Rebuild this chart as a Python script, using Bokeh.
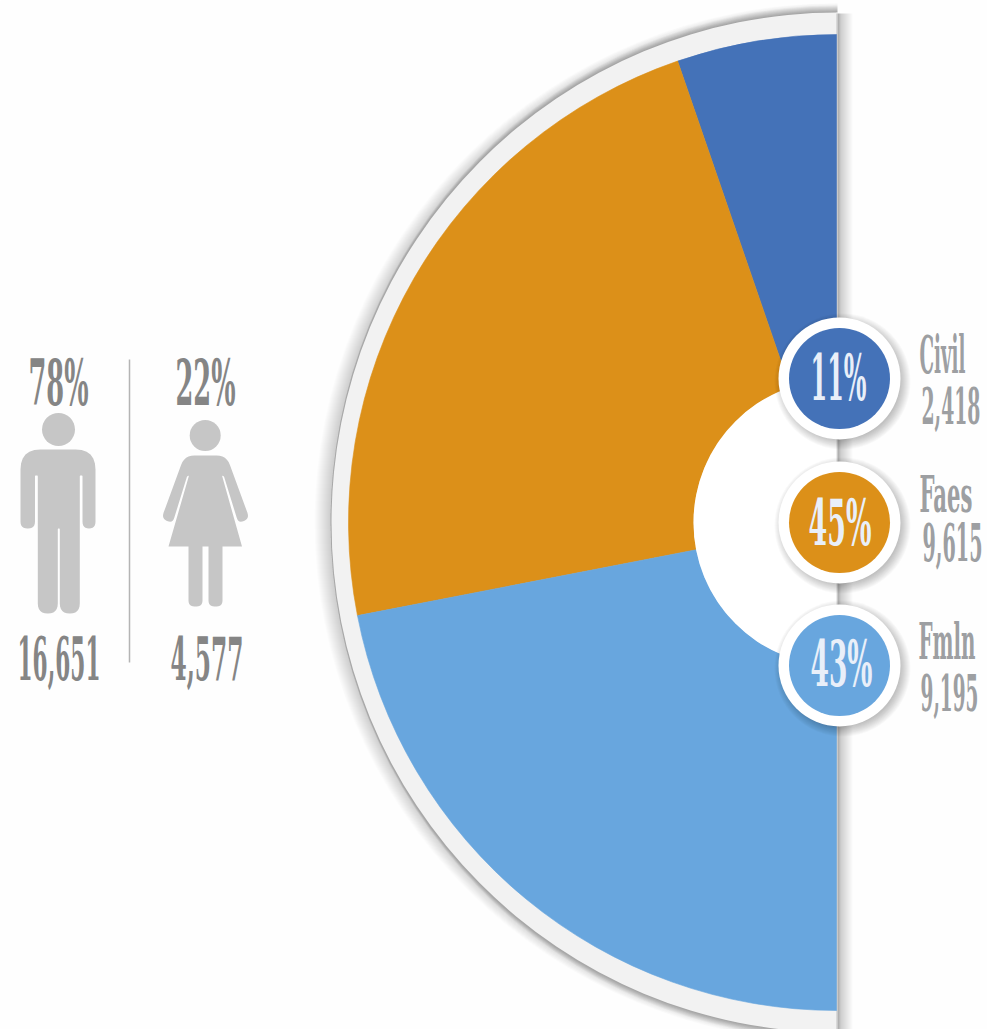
from bokeh.plotting import figure
from bokeh.models import ColumnDataSource, Range1d, CustomJS
from bokeh.document import Document
from bokeh.embed import file_html
from bokeh.resources import INLINE
from bokeh.core.properties import value

# ---- data ----
categories = ["Civil", "Faes", "Fmln"]
counts = ["2,418", "9,615", "9,195"]
pct_labels = ["11%", "45%", "43%"]
slice_degrees = [19.0, 82.0, 79.0]      # angular extent of each slice on the half ring
slice_colors = ["#4472b8", "#dc9019", "#68a6de"]
gender_pct = ["78%", "22%"]
gender_counts = ["16,651", "4,577"]

# ---- layout, in page pixels of the reference ----
W, H = 987, 1029
FONT = value("DejaVu Serif")
BG = "#fefefe"
CX, CY = 836, 522
RX_RING, RY_RING, R_OUT, R_IN = 506, 510, 488, 143
BADGE_X = 839
BADGE_Y = [378, 522, 665]
BASE_SHIFT = 0.38      # the renderer places this baseline lower by this share of the font size


def Y(py):
    return H - py


p = figure(width=W, height=H, x_range=Range1d(0, W), y_range=Range1d(0, H),
           output_backend="svg", toolbar_location=None, min_border=0,
           background_fill_color=BG, border_fill_color=BG,
           outline_line_color=None)
p.axis.visible = False
p.grid.visible = False

# soft shadow of the ring: wide and faint all round, tighter and stronger at top and bottom
for k in range(1, 17):
    p.ellipse(x=[CX], y=[Y(CY)], width=2 * (RX_RING + k), height=2 * (RY_RING + k * 0.6),
              fill_color="#000000", fill_alpha=0.011, line_color=None)
for k in range(1, 8):
    p.ellipse(x=[CX], y=[Y(CY)], width=2 * RX_RING, height=2 * (RY_RING + k),
              fill_color="#000000", fill_alpha=0.028, line_color=None)

# ring, cut off along the straight edge
p.ellipse(x=[CX + 1], y=[Y(CY)], width=2 * RX_RING, height=2 * RY_RING,
          fill_color="#f2f2f2", line_color=None)
p.quad(left=[CX + 1], right=[W], bottom=[0], top=[H], fill_color=BG, line_color=None)

# shadow on the straight edge
for k in range(1, 17):
    p.quad(left=[CX], right=[CX + k], bottom=[0], top=[Y(CY - RY_RING + 1)],
           fill_color="#000000", fill_alpha=0.015, line_color=None)
for k in range(1, 5):
    p.quad(left=[CX], right=[CX + k], bottom=[0], top=[Y(CY - RY_RING + 1)],
           fill_color="#000000", fill_alpha=0.04, line_color=None)
p.quad(left=[CX], right=[CX + 1], bottom=[0], top=[Y(CY - RY_RING)], fill_color="#f2f2f2", line_color=None)

# slices
starts, ends, a = [], [], 90.0
for d in slice_degrees:
    starts.append(a)
    a += d
    ends.append(a)
pie = ColumnDataSource(dict(start=starts, end=ends, color=slice_colors, cat=categories))
p.annular_wedge(x=CX, y=Y(CY), inner_radius=R_IN, outer_radius=R_OUT, source=pie,
                start_angle="start", end_angle="end", start_angle_units="deg", end_angle_units="deg",
                fill_color="color", line_color="color", line_width=0.6)
p.annular_wedge(x=[CX], y=[Y(CY)], inner_radius=0, outer_radius=R_IN,
                start_angle=90, end_angle=270, start_angle_units="deg", end_angle_units="deg",
                fill_color="#ffffff", line_color=None)

# badges
bx = [BADGE_X] * 3
by = [Y(v) for v in BADGE_Y]
for k in range(1, 13):
    p.circle(x=[v + 3 for v in bx], y=[v - 3 for v in by], radius=56 + k,
             fill_color="#000000", fill_alpha=0.024, line_color=None)
p.circle(x=bx, y=by, radius=61, fill_color="#ffffff", line_color=None)
p.circle(x=bx, y=by, radius=50.5, fill_color=slice_colors, line_color=None)

p.line(x=[129, 129], y=[Y(359), Y(662)], line_color="#b4b4b4", line_width=1.5)


def rounded(pts, steps=6):
    """Polygon with per-corner radius: pts = (x, y, r) in page pixels."""
    xs, ys = [], []
    n = len(pts)
    for i, (x, y, r) in enumerate(pts):
        px_, py_, _ = pts[i - 1]
        nx, ny, _ = pts[(i + 1) % n]
        d1 = ((px_ - x) ** 2 + (py_ - y) ** 2) ** 0.5
        d2 = ((nx - x) ** 2 + (ny - y) ** 2) ** 0.5
        r1 = min(r, d1 / 2) / d1
        r2 = min(r, d2 / 2) / d2
        ax, ay = x + (px_ - x) * r1, y + (py_ - y) * r1
        bx_, by_ = x + (nx - x) * r2, y + (ny - y) * r2
        for s in range(steps + 1):
            t = s / steps
            xs.append((1 - t) ** 2 * ax + 2 * t * (1 - t) * x + t ** 2 * bx_)
            ys.append((1 - t) ** 2 * ay + 2 * t * (1 - t) * y + t ** 2 * by_)
    return xs, [Y(v) for v in ys]


ICON = "#c6c6c6"
man = [(20, 449, 20), (95, 449, 20), (95, 528, 7), (82, 528, 7), (82, 475, 1), (79.3, 475, 1),
       (79.3, 613, 10), (59.3, 613, 10), (59.3, 528, 1), (57.3, 528, 1), (57.3, 613, 10),
       (37.3, 613, 10), (37.3, 475, 1), (34.5, 475, 1), (34.5, 528, 7), (20, 528, 7)]
woman = [(184, 455, 10), (226, 455, 10), (249, 518, 6), (238, 523, 6), (223.5, 476, 0.5), (221.5, 475, 0.5),
         (241.5, 546, 0), (222, 546, 0), (222, 606, 6), (208, 606, 6), (208, 546, 0), (202, 546, 0),
         (202, 606, 6), (188, 606, 6), (188, 546, 0), (168, 546, 0), (188.5, 475, 0.5), (186.5, 476, 0.5),
         (172, 523, 6), (161, 518, 6)]
for shape in (man, woman):
    sx, sy = rounded(shape)
    p.patch(sx, sy, fill_color=ICON, line_color=None)
p.circle(x=[58, 204.7], y=[Y(429), Y(435)], radius=[16.5, 15.5], fill_color=ICON, line_color=None)

# texts: (text, centre x, baseline y, font px, width it must occupy, colour)
BADGE_TXT, DARK, SIDE = "#e9eff9", "#858585", "#9d9fa2"
labels = [
    (pct_labels[0], 838, 401, 63, 56, BADGE_TXT),
    (pct_labels[1], 839.5, 546, 64, 63, BADGE_TXT),
    (pct_labels[2], 841, 687, 63, 62, BADGE_TXT),
    (categories[0], 942, 374, 53, 46, SIDE),
    (categories[1], 945.5, 513, 50, 53, SIDE),
    (categories[2], 946.5, 660, 50, 57, SIDE),
    (counts[0], 950.5, 424, 50, 59, SIDE),
    (counts[1], 952, 561, 52, 60, SIDE),
    (counts[2], 949, 711, 51, 58, SIDE),
    (gender_pct[0], 58, 406, 63, 60, DARK),
    (gender_pct[1], 205, 406, 63, 60, DARK),
    (gender_counts[0], 58.5, 680, 60, 83, DARK),
    (gender_counts[1], 206.5, 680, 60, 73, DARK),
]
for t, cx, base, size, _, col in labels:
    p.text(x=[cx], y=[Y(base - BASE_SHIFT * size)], text=[t], text_font=FONT, text_font_style="bold",
           text_font_size=f"{size}px", text_color=col, text_align="center",
           text_baseline="alphabetic")

# No condensed face is installed: narrow the real <text> elements to the reference's widths.
fit = CustomJS(args=dict(targets={t: w for t, _, _, _, w, _ in labels}), code="""
function walk(root, out) {
  root.querySelectorAll('*').forEach(el => {
    if (el.tagName.toLowerCase() === 'text') out.push(el);
    if (el.shadowRoot) walk(el.shadowRoot, out);
  });
  return out;
}
function apply() {
  for (const el of walk(document, [])) {
    if (el.getAttribute('data-fit')) continue;
    const w = targets[el.textContent];
    if (!w) continue;
    const b = el.getBBox();
    if (!b.width) continue;
    const c = b.x + b.width / 2, s = w / b.width;
    const t0 = el.getAttribute('transform') || '';
    el.setAttribute('transform', `${t0} translate(${c} 0) scale(${s} 1) translate(${-c} 0)`);
    el.setAttribute('data-fit', '1');
  }
}
apply();
let n = 0;
const h = setInterval(() => { apply(); if (++n > 100) clearInterval(h); }, 50);
""")
doc = Document()
doc.add_root(p)
doc.js_on_event("document_ready", fit)

open("out.html", "w").write(file_html(p, INLINE))
